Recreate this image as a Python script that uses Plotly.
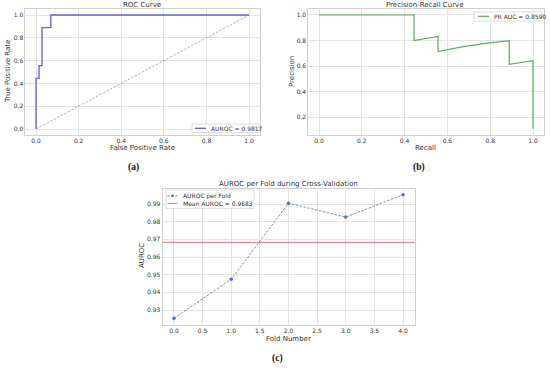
import plotly.graph_objects as go

# ---------------- data ----------------
fpr = [0.0, 0.0, 0.0139, 0.0139, 0.0278, 0.0278, 0.0694, 0.0694, 1.0]
tpr = [0.0, 0.444, 0.444, 0.556, 0.556, 0.889, 0.889, 1.0, 1.0]
chance = [0.0, 1.0]
roc_auc = 0.9817

recall = [0.0, 0.111, 0.222, 0.333, 0.444, 0.444, 0.556, 0.556, 0.667, 0.778, 0.889, 0.889, 1.0, 1.0]
precision = [1.0, 1.0, 1.0, 1.0, 1.0, 0.80, 0.833, 0.714, 0.75, 0.778, 0.80, 0.615, 0.643, 0.11]
pr_auc = 0.8590

folds = [0, 1, 2, 3, 4]
fold_auroc = [0.9253, 0.9474, 0.9905, 0.9826, 0.9953]
mean_auroc = 0.9683

unit_ticks = [0.0, 0.2, 0.4, 0.6, 0.8, 1.0]

W, H = 550, 368
def px(x):
    return x / W
def py(y):
    return 1 - y / H

FONT = "DejaVu Sans"
TXT = "#333333"
GRID = "#e3e3e3"
FRAME = "#d0d0d0"
C_ROC = "#6464dc"
C_DIAG = "#8c8c8c"
C_PR = "#5aad5a"
C_FOLD = "#4c72b0"
C_MEAN = "#e0625a"
FINE_DASH = "2.5px,1.5px"

fig = go.Figure()

# ROC
fig.add_trace(go.Scatter(x=fpr, y=tpr, mode="lines", line=dict(color=C_ROC, width=1.4),
                         showlegend=False, xaxis="x", yaxis="y"))
fig.add_trace(go.Scatter(x=chance, y=chance, mode="lines", line=dict(color=C_DIAG, width=0.7, dash=FINE_DASH),
                         showlegend=False, xaxis="x", yaxis="y"))
# PR
fig.add_trace(go.Scatter(x=recall, y=precision, mode="lines", line=dict(color=C_PR, width=1.2),
                         showlegend=False, xaxis="x2", yaxis="y2"))
# Folds
fig.add_trace(go.Scatter(x=folds, y=fold_auroc, mode="lines+markers",
                         line=dict(color=C_FOLD, width=0.8, dash=FINE_DASH),
                         marker=dict(size=3.5, color=C_FOLD),
                         showlegend=False, xaxis="x3", yaxis="y3"))
fig.add_trace(go.Scatter(x=[folds[0] - 1, folds[-1] + 1], y=[mean_auroc, mean_auroc], mode="lines",
                         line=dict(color=C_MEAN, width=0.9),
                         showlegend=False, xaxis="x3", yaxis="y3"))

axis_common = dict(showgrid=True, gridcolor=GRID, gridwidth=0.8, showline=True, linecolor=FRAME,
                   linewidth=0.8, mirror=True, zeroline=False, ticks="", ticklabelstandoff=0,
                   tickfont=dict(size=6, color=TXT, family=FONT))

fig.update_layout(
    width=W, height=H, margin=dict(l=0, r=0, t=0, b=0),
    paper_bgcolor="white", plot_bgcolor="white", showlegend=False,
    font=dict(family=FONT, color=TXT),
    xaxis=dict(domain=[px(25.4), px(259.7)], anchor="y", range=[-0.05, 1.05],
               tickvals=unit_ticks, tickformat=".1f", **axis_common),
    yaxis=dict(domain=[py(134.7), py(9.3)], anchor="x", range=[-0.05, 1.05],
               tickvals=unit_ticks, tickformat=".1f", **axis_common),
    xaxis2=dict(domain=[px(308.3), px(543.7)], anchor="y2", range=[-0.05, 1.05],
                tickvals=unit_ticks, tickformat=".1f", **axis_common),
    yaxis2=dict(domain=[py(134.5), py(9.3)], anchor="x2", range=[0.0655, 1.0445],
                tickvals=unit_ticks[1:], tickformat=".1f", **axis_common),
    xaxis3=dict(domain=[px(162.5), px(414.5)], anchor="y3", range=[-0.2, 4.2],
                dtick=0.5, tick0=0, tickformat=".1f", **axis_common),
    yaxis3=dict(domain=[py(324.5), py(188.5)], anchor="x3", range=[0.9218, 0.9988],
                dtick=0.01, tick0=0.93, tickformat=".2f", **axis_common),
)

def ann(text, x, y, size=7, angle=0, xanchor="center", color=TXT, family=FONT):
    fig.add_annotation(text=text, x=px(x), y=py(y), xref="paper", yref="paper",
                       showarrow=False, textangle=angle, font=dict(size=size, color=color, family=family),
                       xanchor=xanchor, yanchor="middle")

def box(x0, y0, x1, y1):
    fig.add_shape(type="rect", xref="paper", yref="paper", x0=px(x0), x1=px(x1), y0=py(y1), y1=py(y0),
                  line=dict(color="#d5d5d5", width=0.8), fillcolor="white", layer="above")

def hline(x0, x1, y, color, width=1.2, dash="solid"):
    fig.add_shape(type="line", xref="paper", yref="paper", x0=px(x0), x1=px(x1), y0=py(y), y1=py(y),
                  line=dict(color=color, width=width, dash=dash), layer="above")

# titles
ann("ROC Curve", 142, 5)
ann("Precision-Recall Curve", 425, 5)
ann("AUROC per Fold during Cross-Validation", 288, 184)
# axis titles
ann("False Positive Rate", 142, 147.5)
ann("True Positive Rate", 8, 72, angle=-90)
ann("Recall", 425, 147.5)
ann("Precision", 292, 72, angle=-90)
ann("Fold Number", 288, 338.5)
ann("AUROC", 142, 256, angle=-90)
# panel labels
ann("<b>(a)</b>", 133, 167.5, size=9.5, family="Liberation Serif", color="#111111")
ann("<b>(b)</b>", 419, 167.5, size=9.5, family="Liberation Serif", color="#111111")
ann("<b>(c)</b>", 277, 358, size=9.5, family="Liberation Serif", color="#111111")

# legends (drawn manually for compact matplotlib-like boxes)
box(192, 124, 259, 132.5)
hline(195, 206, 128.3, C_ROC, 1.4)
ann(f"AUROC = {roc_auc:.4f}", 209, 128.3, size=6, xanchor="left")

box(474, 12, 542, 21)
hline(478, 489, 16.3, C_PR, 1.2)
ann(f"PR AUC = {pr_auc:.4f}", 492, 16.3, size=6, xanchor="left")

box(166, 190, 254, 208.5)
hline(167.5, 177.5, 195.8, C_FOLD, 0.8, FINE_DASH)
fig.add_shape(type="circle", xref="paper", yref="paper", x0=px(171.0), x1=px(173.6),
              y0=py(197.1), y1=py(194.5), fillcolor=C_FOLD, line=dict(width=0), layer="above")
ann("AUROC per Fold", 181, 195.8, size=6, xanchor="left")
hline(167.5, 177.5, 203.4, C_MEAN, 0.9)
ann(f"Mean AUROC = {mean_auroc:.4f}", 181, 203.4, size=6, xanchor="left")

fig.write_html("out.html", config={"displayModeBar": False},
               post_script="document.body.style.margin='0';document.body.style.padding='0';")
